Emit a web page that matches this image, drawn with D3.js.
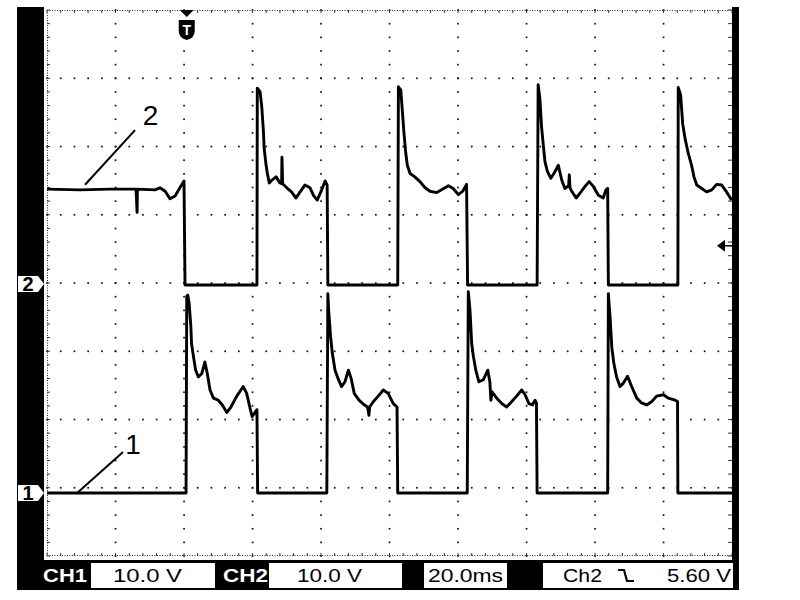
<!DOCTYPE html>
<html><head><meta charset="utf-8">
<script src="https://cdn.jsdelivr.net/npm/d3@7"></script>
<style>html,body{margin:0;padding:0;background:#fff;} svg{display:block;}</style>
</head><body>
<svg id="c" width="800" height="600"></svg>
<script>
// ---- data (time in ms from left edge, volts) ----
const ch2Trace = [[0,13.9],[9.6,13.8],[18.4,13.9],[26.0,13.9],[26.3,10.5],[26.4,13.9],[31.5,13.8],[33.0,14.1],[34.5,13.6],[35.9,12.5],[37.4,12.9],[38.8,14.1],[40.0,15.1],[40.3,-0.15],[61.3,-0.15],
[61.4,28.7],[62.2,28.2],[62.7,26.0],[63.2,22.3],[63.4,19.9],[63.9,17.7],[64.3,16.3],[64.9,14.8],[65.6,15.2],[66.9,15.7],[68.0,14.8],[68.5,14.7],[68.6,18.6],[68.8,14.7],[70.0,14.1],[71.4,13.5],[72.7,12.6],[73.9,13.5],[75.3,14.5],[76.8,14.1],[77.8,13.0],[78.9,12.3],[80.2,13.8],[81.2,15.1],[81.8,14.5],[82.0,-0.15],[102.4,-0.15],
[102.6,28.9],[103.3,28.4],[103.7,25.7],[104.2,22.3],[104.7,19.4],[105.2,17.4],[106.0,16.2],[107.4,15.7],[108.9,15.0],[110.4,14.1],[111.8,13.6],[113.8,13.4],[115.2,13.8],[117.2,14.4],[118.6,14.0],[120.1,13.1],[121.4,13.6],[122.5,14.6],[122.8,-0.15],[143.1,-0.15],
[143.4,29.2],[143.9,27.2],[144.4,23.0],[144.9,20.4],[145.4,17.9],[146.1,16.5],[147.1,15.5],[148.0,16.2],[149.3,17.4],[150.3,15.2],[151.2,14.0],[152.3,14.4],[152.5,16.0],[152.7,14.1],[153.2,13.6],[154.5,12.6],[155.6,13.3],[157.1,14.3],[158.3,15.0],[159.5,14.3],[161.0,13.0],[162.4,12.6],[163.2,13.8],[163.7,14.0],[163.9,-0.15],[184.2,-0.15],
[184.3,28.8],[185.0,27.7],[185.6,23.5],[186.3,21.3],[187.2,19.2],[188.2,17.4],[188.9,15.7],[189.7,14.5],[191.2,14.0],[192.6,13.5],[194.1,13.8],[195.5,14.6],[197.0,14.5],[198.4,13.5],[199.9,12.3]];

const ch1Trace = [[0,0],[40.6,0],[40.8,28.8],[41.1,29.0],[41.5,27.8],[42.0,24.4],[42.2,21.9],[42.7,20.2],[43.4,18.0],[44.2,17.0],[45.2,17.5],[46.1,19.2],[46.8,17.5],[47.6,15.1],[48.6,13.9],[50.0,13.6],[51.2,12.9],[52.5,11.8],[53.7,12.6],[55.4,14.2],[57.3,15.6],[58.3,14.6],[59.3,12.4],[59.9,11.2],[60.7,11.8],[61.3,12.2],[61.5,0],[81.7,0],
[82.0,29.2],[82.3,26.3],[82.8,22.9],[83.3,20.5],[84.1,18.0],[85.1,16.6],[86.0,15.6],[87.0,16.3],[88.0,18.0],[88.8,16.8],[89.7,14.6],[91.1,13.6],[92.4,13.0],[93.6,12.6],[94.0,11.4],[94.2,12.6],[95.3,13.4],[96.7,14.2],[98.2,15.1],[99.6,14.6],[101.1,13.1],[102.2,12.6],[102.4,0],[122.7,0],
[123.0,29.5],[123.5,26.8],[124.0,21.9],[124.5,20.0],[125.2,18.0],[126.1,16.3],[127.4,16.6],[128.7,18.0],[129.3,16.3],[129.6,13.6],[130.0,14.8],[131.3,13.9],[132.8,13.1],[134.2,12.6],[135.7,13.4],[137.1,14.2],[138.6,15.1],[139.6,14.4],[140.7,13.1],[141.7,12.9],[142.5,13.6],[142.9,13.2],[143.1,0],[163.7,0],
[163.9,29.2],[164.4,25.8],[164.9,21.4],[165.5,19.0],[166.3,17.0],[167.3,15.6],[168.3,16.1],[169.5,17.1],[170.7,15.6],[172.2,13.9],[173.6,13.2],[175.1,12.9],[176.6,13.4],[178.0,14.2],[180.0,14.4],[181.4,13.9],[183.4,13.6],[184.1,13.4],[184.2,0],[200,0]];

const ch1Offset = -30.77;   // screen volts of CH1 ground marker
const ch2Offset = -0.15;    // screen volts of CH2 ground marker
const triggerTime = 40.8;   // ms
const trigLevel = 5.60;     // V on Ch2
const ch1Label = "CH1", ch1Scale = "10.0 V";
const ch2Label = "CH2", ch2Scale = "10.0 V";
const timeBase = "20.0ms";
const trigSource = "Ch2", trigText = "5.60 V";
const annotations = [
  {label:"2", tx:30.2, tv:23.15, x1:25.7, v1:22.4, x2:11.1, v2:14.4},
  {label:"1", tx:25.1, tv:-25.05, x1:22.2, v1:-24.76, x2:8.8, v2:-30.77}
];

// ---- layout ----
const L = 47, R = 732, T = 10, B = 556;
const svg = d3.select("#c");
const x = d3.scaleLinear().domain([0, 200]).range([L, R]);
const y = d3.scaleLinear().domain([-40, 40]).range([B, T]);
const font = "'Liberation Sans', Arial, sans-serif";

svg.append("rect").attr("width",800).attr("height",600).attr("fill","#fff");

// grid dots on major lines
const g = svg.append("g").attr("fill","#111");
const majorT = d3.range(20, 200, 20), majorV = d3.range(-30, 40, 10);
const minorT = d3.range(0, 200.01, 4), minorV = d3.range(-40, 40.01, 2);
majorT.forEach(t => minorV.forEach(v => g.append("rect").attr("x", x(t)-0.8).attr("y", y(v)-0.8).attr("width",1.7).attr("height",1.7)));
majorV.forEach(v => minorT.forEach(t => g.append("rect").attr("x", x(t)-0.8).attr("y", y(v)-0.8).attr("width",1.7).attr("height",1.7)));

// frame edges (fine dotted) and edge ticks
const e = svg.append("g").attr("stroke","#333").attr("stroke-width",1);
e.append("line").attr("x1",L).attr("x2",R).attr("y1",T+0.5).attr("y2",T+0.5).attr("stroke-dasharray","1,1.5");
e.append("line").attr("x1",L).attr("x2",R).attr("y1",B-0.5).attr("y2",B-0.5).attr("stroke-dasharray","1,1.5");
e.append("line").attr("x1",L+0.5).attr("x2",L+0.5).attr("y1",T).attr("y2",B).attr("stroke-dasharray","1,1.5");
minorT.forEach(t => {
  e.append("line").attr("x1",x(t)).attr("x2",x(t)).attr("y1",T).attr("y2",T+3);
  e.append("line").attr("x1",x(t)).attr("x2",x(t)).attr("y1",B-3).attr("y2",B);
});
minorV.forEach(v => {
  e.append("line").attr("x1",L).attr("x2",L+3).attr("y1",y(v)).attr("y2",y(v));
  e.append("line").attr("x1",R-4).attr("x2",R).attr("y1",y(v)).attr("y2",y(v));
});

// traces
svg.append("clipPath").attr("id","pc").append("rect").attr("x",L).attr("y",T).attr("width",R-L).attr("height",B-T);
const line = off => d3.line().x(d => x(d[0])).y(d => y(d[1] + off));
svg.append("path").datum(ch2Trace).attr("d", line(ch2Offset)).attr("clip-path","url(#pc)")
  .attr("fill","none").attr("stroke","#000").attr("stroke-width",2.9).attr("stroke-linejoin","round");
svg.append("path").datum(ch1Trace).attr("d", line(ch1Offset)).attr("clip-path","url(#pc)")
  .attr("fill","none").attr("stroke","#000").attr("stroke-width",2.9).attr("stroke-linejoin","round");

// annotations
annotations.forEach(a => {
  svg.append("line").attr("x1",x(a.x1)).attr("y1",y(a.v1)).attr("x2",x(a.x2)).attr("y2",y(a.v2))
    .attr("stroke","#000").attr("stroke-width",2);
  svg.append("text").attr("x",x(a.tx)).attr("y",y(a.tv)).attr("text-anchor","middle")
    .attr("font-family",font).attr("font-size",28).attr("fill","#000").text(a.label);
});

// black frame
svg.append("rect").attr("x",17).attr("y",7).attr("width",27).attr("height",583).attr("fill","#000");
svg.append("rect").attr("x",R).attr("y",7).attr("width",7).attr("height",583).attr("fill","#000");
svg.append("rect").attr("x",17).attr("y",560).attr("width",722).attr("height",30).attr("fill","#000");

// channel ground markers
[{lab:"2", off:ch2Offset},{lab:"1", off:ch1Offset}].forEach(m => {
  const yc = y(m.off);
  svg.append("polygon").attr("points",[[18,yc-8],[38,yc-8],[44,yc],[38,yc+8],[18,yc+8]].map(p=>p.join(",")).join(" "))
    .attr("fill","#fff");
  svg.append("text").attr("x",28).attr("y",yc+7).attr("text-anchor","middle")
    .attr("font-family",font).attr("font-weight","bold").attr("font-size",20).attr("fill","#000").text(m.lab);
});

// trigger position marker
const xt = x(triggerTime);
svg.append("polygon").attr("points",`${xt-7},${T} ${xt+7},${T} ${xt},${T+7}`).attr("fill","#000");
svg.append("path").attr("d",`M${xt-8},${T+10} h16 v11 q0,7 -8,9 q-8,-2 -8,-9 z`).attr("fill","#000");
svg.append("text").attr("x",xt).attr("y",T+25).attr("text-anchor","middle").attr("font-family",font)
  .attr("font-weight","bold").attr("font-size",14).attr("fill","#fff").text("T");

// trigger level marker
const yl = y(trigLevel + ch2Offset);
svg.append("polygon").attr("points",`${R-15},${yl} ${R-7},${yl-6} ${R-7},${yl+6}`).attr("fill","#000");
svg.append("line").attr("x1",R-8).attr("x2",R).attr("y1",yl).attr("y2",yl).attr("stroke","#000").attr("stroke-width",1.5);

// info bar
const bar = svg.append("g").attr("font-family",font).attr("font-size",18);
const by = 582;
function box(x0, x1){ bar.append("rect").attr("x",x0).attr("y",563).attr("width",x1-x0).attr("height",25).attr("fill","#fff"); }
function txt(s, x0, len, col, bold){
  bar.append("text").attr("x",x0).attr("y",by).attr("fill",col).attr("font-weight",bold?"bold":"normal")
    .attr("textLength",len).attr("lengthAdjust","spacingAndGlyphs").text(s);
}
txt(ch1Label, 43, 44, "#fff", true);
box(91, 215); txt(ch1Scale, 113, 69, "#000", false);
txt(ch2Label, 223, 45, "#fff", true);
box(269, 402); txt(ch2Scale, 297, 65, "#000", false);
box(424, 507); txt(timeBase, 428, 75, "#000", false);
box(543, 733); txt(trigSource, 563, 39, "#000", false); txt(trigText, 667, 64, "#000", false);
bar.append("path").attr("d","M618,570 h6 l3,11 h7").attr("fill","none").attr("stroke","#000").attr("stroke-width",2.2);
</script>
</body></html>
